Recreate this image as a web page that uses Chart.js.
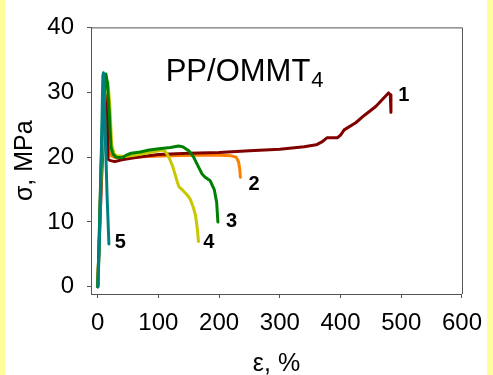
<!DOCTYPE html>
<html>
<head>
<meta charset="utf-8">
<title>PP/OMMT4 stress-strain</title>
<script src="https://cdn.jsdelivr.net/npm/chart.js@4/dist/chart.umd.min.js"></script>
<style>
  html, body { margin: 0; padding: 0; background: #fff; overflow: hidden; }
  #wrap { position: relative; width: 493px; height: 375px; }
  canvas { display: block; }
</style>
</head>
<body>
<div id="wrap"><canvas id="sChart" width="493" height="375"></canvas></div>
<script>
// tick labels
const xTicks = [0, 100, 200, 300, 400, 500, 600];
const yTicks = [0, 10, 20, 30, 40];

// curve 1 (dark red)
const c1X = [0, 3, 7, 11, 14, 16, 17, 20, 28, 40, 60, 100, 150, 200, 250, 300, 340, 360, 370, 378, 395, 400, 406, 425, 440, 458, 470, 479, 482, 483];
const c1Y = [0, 8, 18, 26, 29.5, 29, 19.7, 19.5, 19.3, 19.6, 19.9, 20.4, 20.6, 20.7, 21.0, 21.2, 21.6, 21.9, 22.4, 23.0, 23.0, 23.4, 24.2, 25.3, 26.5, 27.8, 29.0, 29.9, 29.6, 26.9];

// curve 2 (orange)
const c2X = [0, 2, 5, 8, 11, 14, 17, 20, 30, 50, 80, 120, 160, 200, 220, 228, 232, 234, 235];
const c2Y = [0, 6, 16, 25, 30, 28, 22, 20.3, 19.9, 20.0, 20.1, 20.2, 20.3, 20.3, 20.2, 20.0, 19.3, 18.2, 16.9];

// curve 3 (green)
const c3X = [0, 2, 5, 9, 13.5, 16, 19, 22, 25, 30, 40, 47, 55, 70, 85, 101, 120, 133, 140, 150, 158, 166, 172, 177, 185, 192, 196, 198];
const c3Y = [0, 6, 17, 28, 32.8, 31.5, 27, 21.5, 20.5, 20.0, 19.9, 20.3, 20.6, 20.8, 21.1, 21.3, 21.5, 21.7, 21.6, 21.0, 20.0, 18.5, 17.4, 16.9, 16.4, 15.0, 13.0, 10.0];

// curve 4 (yellow)
const c4X = [0, 2, 5, 9, 13, 17, 20, 23, 27, 31, 45, 60, 74, 90, 106, 111, 115, 119, 123, 127, 131, 134, 140, 147, 152, 157, 161, 164, 166];
const c4Y = [0, 5, 15, 25, 31, 31.5, 28, 22, 20.5, 20.2, 20.1, 20.3, 20.5, 20.8, 21.1, 20.9, 20.4, 19.6, 18.7, 17.5, 16.2, 15.4, 14.9, 14.2, 13.6, 12.4, 11.1, 9.0, 7.0];

// curve 5 (teal)
const c5X = [0.5, 2.5, 4.5, 6.5, 8.5, 9.5, 11, 13, 15.5, 18.5];
const c5Y = [0, 6, 14, 23, 32.5, 33, 29, 22, 14, 6.6];

// curve numbers, anchored in data units (left / baseline)
const curveNames = ['1', '2', '3', '4', '5'];
const nameX = [495, 248.6, 211.3, 174, 28];
const nameY = [28.7, 15.0, 9.2, 6.0, 6.0];

const FONT = "'Liberation Sans', Arial, sans-serif";
const AXIS_COLOR = '#555';

function toPoints(xs, ys) {
  return xs.map((x, i) => ({ x, y: ys[i] }));
}

function lineSet(label, xs, ys, color, order) {
  return {
    label,
    data: toPoints(xs, ys),
    borderColor: color,
    backgroundColor: color,
    borderWidth: 3,
    borderJoinStyle: 'round',
    borderCapStyle: 'round',
    pointRadius: 0,
    tension: 0,
    fill: false,
    order,
  };
}

// page background with the yellow side strips
const backdrop = {
  id: 'backdrop',
  beforeDraw(chart) {
    const { ctx, width, height } = chart;
    ctx.save();
    ctx.fillStyle = '#fff';
    ctx.fillRect(0, 0, width, height);
    ctx.fillStyle = '#ffff99';
    ctx.fillRect(0, 0, 5, height);
    ctx.fillRect(487, 0, width - 487, height);
    ctx.restore();
  },
};

// frame around the plot area (top and right sides)
const frame = {
  id: 'frame',
  beforeDatasetsDraw(chart) {
    const { ctx, chartArea: a } = chart;
    ctx.save();
    ctx.strokeStyle = AXIS_COLOR;
    ctx.lineWidth = 1;
    ctx.beginPath();
    ctx.moveTo(a.left, a.top + 0.5);
    ctx.lineTo(a.right + 0.5, a.top + 0.5);
    ctx.lineTo(a.right + 0.5, a.bottom);
    ctx.stroke();
    ctx.restore();
  },
};

// in-plot title and curve numbers
const annotations = {
  id: 'annotations',
  afterDatasetsDraw(chart) {
    const { ctx, scales } = chart;
    const sx = scales.x, sy = scales.y;
    ctx.save();
    ctx.fillStyle = '#000';
    ctx.textAlign = 'left';
    ctx.textBaseline = 'alphabetic';

    const tx = sx.getPixelForValue(112);
    const ty = sy.getPixelForValue(31.8);
    ctx.font = '31px ' + FONT;
    ctx.fillText('PP/OMMT', tx, ty);
    const w = ctx.measureText('PP/OMMT').width;
    ctx.font = '22px ' + FONT;
    ctx.fillText('4', tx + w + 1, ty + 6);

    ctx.font = 'bold 20px ' + FONT;
    curveNames.forEach((n, i) => {
      ctx.fillText(n, sx.getPixelForValue(nameX[i]), sy.getPixelForValue(nameY[i]));
    });
    ctx.restore();
  },
};

function renderChart() {
  const ctx = document.getElementById('sChart').getContext('2d');
  new Chart(ctx, {
    type: 'line',
    data: {
      datasets: [
        lineSet('1', c1X, c1Y, '#800000', 4),
        lineSet('2', c2X, c2Y, '#ff8000', 5),
        lineSet('3', c3X, c3Y, '#008000', 2),
        lineSet('4', c4X, c4Y, '#c8c800', 3),
        lineSet('5', c5X, c5Y, '#008080', 1),
      ],
    },
    options: {
      responsive: false,
      animation: false,
      devicePixelRatio: 1,
      layout: { padding: { top: 23, right: 25, left: 0, bottom: 0 } },
      plugins: { legend: { display: false }, tooltip: { enabled: false } },
      scales: {
        x: {
          type: 'linear',
          position: 'bottom',
          min: -11,
          max: 600,
          afterBuildTicks: s => { s.ticks = xTicks.map(v => ({ value: v })); },
          afterFit: s => { s.height = 81; },
          grid: { drawOnChartArea: false, drawTicks: true, tickLength: 4, color: AXIS_COLOR },
          border: { color: AXIS_COLOR, width: 1 },
          ticks: { color: '#000', padding: 11, maxRotation: 0, autoSkip: false, font: { family: FONT, size: 24 } },
          title: { display: true, text: 'ε, %', color: '#000', padding: { top: 0, bottom: -2 }, font: { family: FONT, size: 25, lineHeight: 1 } },
        },
        y: {
          type: 'linear',
          position: 'left',
          min: -1.1,
          max: 40,
          afterBuildTicks: s => { s.ticks = yTicks.map(v => ({ value: v })); },
          afterFit: s => { s.width = 91; },
          grid: { drawOnChartArea: false, drawTicks: true, tickLength: 4, color: AXIS_COLOR },
          border: { color: AXIS_COLOR, width: 1 },
          ticks: { color: '#000', padding: 13, autoSkip: false, font: { family: FONT, size: 24 } },
          title: { display: true, text: 'σ, MPa', color: '#000', padding: { top: 12.5, bottom: 0 }, font: { family: FONT, size: 25, lineHeight: 1 } },
        },
      },
    },
    plugins: [backdrop, frame, annotations],
  });
}

document.addEventListener('DOMContentLoaded', renderChart);
</script>
</body>
</html>
